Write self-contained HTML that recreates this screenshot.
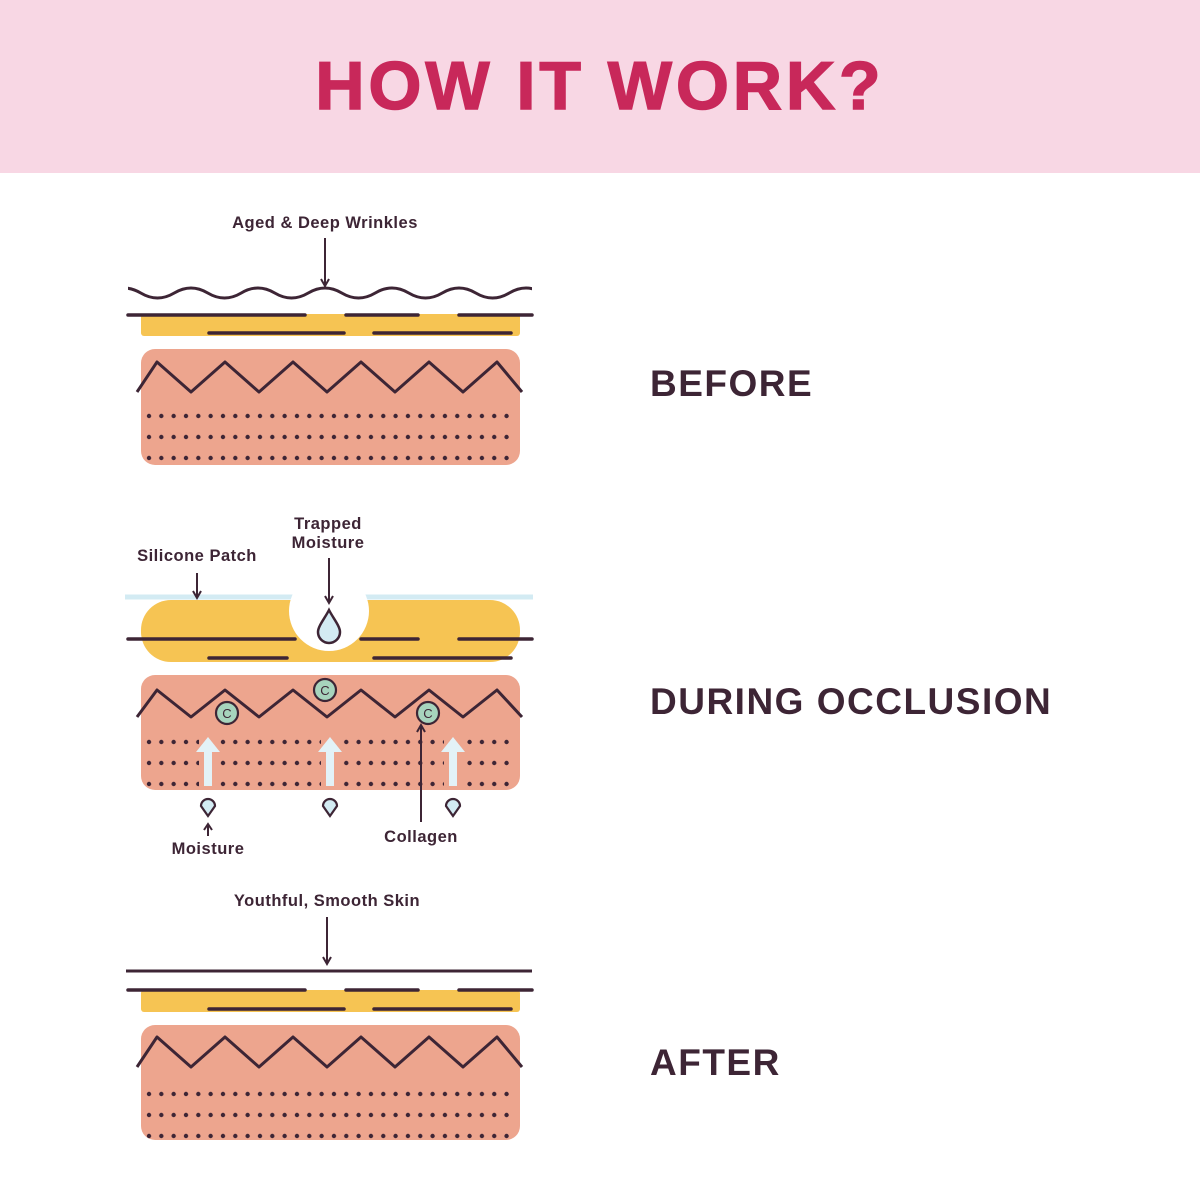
<!DOCTYPE html>
<html><head><meta charset="utf-8"><style>
html,body{margin:0;padding:0;background:#fff;}
svg{display:block}
</style></head><body>
<svg width="1200" height="1200" viewBox="0 0 1200 1200" xmlns="http://www.w3.org/2000/svg" font-family="'Liberation Sans', sans-serif">
<defs>
<pattern id="d1" x="146" y="413" width="12.33" height="21" patternUnits="userSpaceOnUse"><circle cx="3" cy="3" r="2.2" fill="#3d2535"/></pattern>
<pattern id="d2" x="146" y="739" width="12.33" height="21" patternUnits="userSpaceOnUse"><circle cx="3" cy="3" r="2.2" fill="#3d2535"/></pattern>
<pattern id="d3" x="146" y="1091" width="12.33" height="21" patternUnits="userSpaceOnUse"><circle cx="3" cy="3" r="2.2" fill="#3d2535"/></pattern>
<clipPath id="wc"><rect x="128" y="0" width="404" height="1200"/></clipPath>
</defs>
<rect x="0" y="0" width="1200" height="173" fill="#f8d7e4"/>
<text x="600" y="109" text-anchor="middle" font-size="68" font-weight="bold" fill="#c8285a" letter-spacing="4" stroke="#c8285a" stroke-width="1.5">HOW IT WORK?</text>

<g fill="#3d2535" font-weight="bold">
<text x="650" y="396" font-size="37" letter-spacing="1.5">BEFORE</text>
<text x="650" y="714" font-size="37" letter-spacing="1.5">DURING OCCLUSION</text>
<text x="650" y="1075" font-size="37" letter-spacing="1.5">AFTER</text>
</g>

<g fill="#3d2535" font-size="16.5" font-weight="bold" text-anchor="middle" letter-spacing="0.5">
<text x="325" y="228">Aged &amp; Deep Wrinkles</text>
<text x="197" y="561">Silicone Patch</text>
<text x="328" y="529">Trapped</text>
<text x="328" y="548">Moisture</text>
<text x="208" y="854">Moisture</text>
<text x="421" y="842">Collagen</text>
<text x="327" y="906">Youthful, Smooth Skin</text>
</g>

<!-- BEFORE -->
<path clip-path="url(#wc)" d="M107.25,293 q16.75,-10 33.5,0 t33.5,0 t33.5,0 t33.5,0 t33.5,0 t33.5,0 t33.5,0 t33.5,0 t33.5,0 t33.5,0 t33.5,0 t33.5,0 t33.5,0 t33.5,0" fill="none" stroke="#3d2535" stroke-width="3"/>
<rect x="141" y="314" width="379" height="22" rx="3" fill="#f6c453"/>
<g stroke="#3d2535" stroke-width="3.5" stroke-linecap="round">
<line x1="128" y1="315" x2="305" y2="315"/><line x1="346" y1="315" x2="418" y2="315"/><line x1="459" y1="315" x2="532" y2="315"/>
<line x1="209" y1="333" x2="344" y2="333"/><line x1="374" y1="333" x2="511" y2="333"/>
</g>
<rect x="141" y="349" width="379" height="116" rx="14" fill="#eda58e"/>
<path d="M137,392 L157,362 L191,392 L225,362 L259,392 L293,362 L327,392 L361,362 L395,392 L429,362 L463,392 L497,362 L522,392" fill="none" stroke="#3d2535" stroke-width="3" stroke-linejoin="round"/>
<rect x="144" y="413" width="372" height="50" fill="url(#d1)"/>

<!-- DURING -->
<rect x="141" y="600" width="379" height="62" rx="30" fill="#f6c453"/>
<line x1="125" y1="597" x2="533" y2="597" stroke="#d3ebf3" stroke-width="5"/>
<circle cx="329" cy="611" r="40" fill="#fff"/>
<g stroke="#3d2535" stroke-width="3.5" stroke-linecap="round">
<line x1="128" y1="639" x2="295" y2="639"/><line x1="361" y1="639" x2="418" y2="639"/><line x1="459" y1="639" x2="532" y2="639"/>
<line x1="209" y1="658" x2="287" y2="658"/><line x1="374" y1="658" x2="511" y2="658"/>
</g>
<path d="M329,610 C325,618 318,626 318,632 a11,11 0 0 0 22,0 C340,626 333,618 329,610Z" fill="#d3ebf3" stroke="#3d2535" stroke-width="2.5"/>
<rect x="141" y="675" width="379" height="115" rx="14" fill="#eda58e"/>
<path d="M137,717 L157,690 L191,717 L225,690 L259,717 L293,690 L327,717 L361,690 L395,717 L429,690 L463,717 L497,690 L522,717" fill="none" stroke="#3d2535" stroke-width="3" stroke-linejoin="round"/>
<rect x="144" y="739" width="372" height="50" fill="url(#d2)"/>
<g fill="#eda58e"><rect x="199" y="738" width="18" height="50"/><rect x="321" y="738" width="18" height="50"/><rect x="444" y="738" width="18" height="50"/></g>
<g fill="#e3f2f7">
<rect x="204" y="750" width="8" height="36"/><path d="M196,752 L208,737 L220,752Z"/>
<rect x="326" y="750" width="8" height="36"/><path d="M318,752 L330,737 L342,752Z"/>
<rect x="449" y="750" width="8" height="36"/><path d="M441,752 L453,737 L465,752Z"/>
</g>
<g fill="#a7d4bd" stroke="#3d2535" stroke-width="2.2">
<circle cx="227" cy="713" r="11"/><circle cx="325" cy="690" r="11"/><circle cx="428" cy="713" r="11"/>
</g>
<g fill="#3d2535" font-size="13" text-anchor="middle">
<text x="227" y="718">C</text><text x="325" y="695">C</text><text x="428" y="718">C</text>
</g>
<g fill="#d3ebf3" stroke="#3d2535" stroke-width="2.2">
<path d="M208,816 L201,806 a7,7 0 1 1 14,0Z"/>
<path d="M330,816 L323,806 a7,7 0 1 1 14,0Z"/>
<path d="M453,816 L446,806 a7,7 0 1 1 14,0Z"/>
</g>

<!-- AFTER -->
<line x1="126" y1="971" x2="532" y2="971" stroke="#3d2535" stroke-width="3"/>
<rect x="141" y="990" width="379" height="22" rx="3" fill="#f6c453"/>
<g stroke="#3d2535" stroke-width="3.5" stroke-linecap="round">
<line x1="128" y1="990" x2="305" y2="990"/><line x1="346" y1="990" x2="418" y2="990"/><line x1="459" y1="990" x2="532" y2="990"/>
<line x1="209" y1="1009" x2="344" y2="1009"/><line x1="374" y1="1009" x2="511" y2="1009"/>
</g>
<rect x="141" y="1025" width="379" height="115" rx="14" fill="#eda58e"/>
<path d="M137,1067 L157,1037 L191,1067 L225,1037 L259,1067 L293,1037 L327,1067 L361,1037 L395,1067 L429,1037 L463,1067 L497,1037 L522,1067" fill="none" stroke="#3d2535" stroke-width="3" stroke-linejoin="round"/>
<rect x="144" y="1091" width="372" height="50" fill="url(#d3)"/>

<!-- arrows on top -->
<g stroke="#3d2535" stroke-width="2" fill="none">
<line x1="325" y1="238" x2="325" y2="285"/><path d="M321,279 L325,286 L329,279"/>
<line x1="197" y1="573" x2="197" y2="597"/><path d="M193,591 L197,598 L201,591"/>
<line x1="329" y1="558" x2="329" y2="602"/><path d="M325,596 L329,603 L333,596"/>
<line x1="208" y1="826" x2="208" y2="836"/><path d="M204,830 L208,824 L212,830"/>
<line x1="421" y1="726" x2="421" y2="822"/><path d="M417,732 L421,725 L425,732"/>
<line x1="327" y1="917" x2="327" y2="963"/><path d="M323,957 L327,964 L331,957"/>
</g>
</svg>
</body></html>
